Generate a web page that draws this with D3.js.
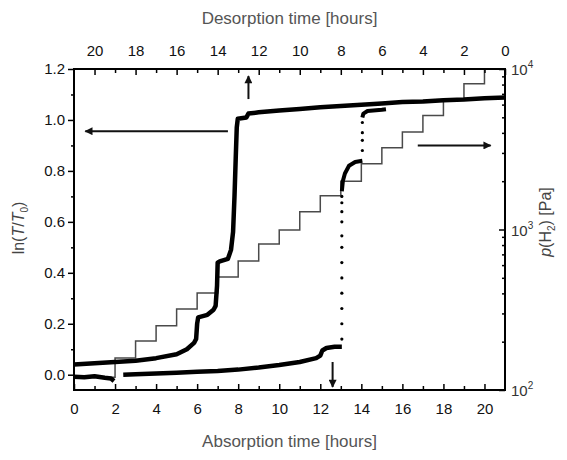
<!DOCTYPE html>
<html>
<head>
<meta charset="utf-8">
<script src="https://cdn.jsdelivr.net/npm/d3@7"></script>
<style>
  body { margin: 0; background: #fff; }
  svg { display: block; font-family: "Liberation Sans", Arial, sans-serif; }
</style>
</head>
<body>
<div id="chart"></div>
<script>
const WIDTH = 567;
const HEIGHT = 460;

// pressure steps: start time (h) and p(H2) in Pa
const stepTimes = [0, 2, 3, 4, 5, 6, 7, 8, 9, 10, 11, 12, 13, 14, 15, 16, 17, 18, 19, 20, 21];
const stepPressure = [120, 158, 202, 251, 320, 402, 506, 637, 813, 994, 1290, 1620, 2000, 2570, 3230, 4050, 5130, 6460, 8100, 10000, 10000];

// absorption curve ln(T/T0)
const absTime = [0, 1, 2, 3, 4, 5, 5.5, 5.85, 5.95, 6.0, 6.05, 6.5, 6.8, 6.9, 6.97, 7.0, 7.1, 7.5, 7.65, 7.75, 7.82, 7.88, 7.93, 7.98, 8.4, 8.5, 9, 10, 11, 12, 13, 14, 15, 16, 17, 18, 19, 20, 21];
const absLnT = [0.04, 0.045, 0.05, 0.055, 0.065, 0.08, 0.1, 0.125, 0.14, 0.2, 0.225, 0.235, 0.255, 0.27, 0.35, 0.44, 0.445, 0.455, 0.49, 0.56, 0.7, 0.85, 0.97, 1.005, 1.01, 1.025, 1.03, 1.037, 1.043, 1.05, 1.055, 1.06, 1.065, 1.07, 1.072, 1.077, 1.08, 1.085, 1.088];

// desorption curve, plotted on the absorption axis
const desTimeA = [0, 0.5, 1, 1.5, 1.8, 1.95];
const desLnTA = [-0.008, -0.01, -0.006, -0.012, -0.015, -0.025];
const desTimeB = [2.4, 3, 4, 5, 6, 7, 8, 9, 10, 11, 11.8, 12.0, 12.1, 12.3, 12.7, 13.05];
const desLnTB = [0.0, 0.002, 0.005, 0.008, 0.012, 0.015, 0.02, 0.028, 0.038, 0.05, 0.065, 0.075, 0.095, 0.105, 0.11, 0.11];
const jump1Time = 13.05;
const jump1LnT = [0.14, 0.2, 0.26, 0.32, 0.38, 0.44, 0.5, 0.545, 0.6, 0.64, 0.675, 0.7];
const desTimeC = [13.05, 13.1, 13.2, 13.4, 13.7, 14.05];
const desLnTC = [0.72, 0.76, 0.79, 0.82, 0.835, 0.84];
const jump2Time = 14.05;
const jump2LnT = [0.88, 0.92, 0.95, 0.99];
const desTimeD = [14.05, 14.1, 14.3, 15, 15.2];
const desLnTD = [1.01, 1.025, 1.035, 1.04, 1.042];

// ticks
const bottomTicks = [0, 2, 4, 6, 8, 10, 12, 14, 16, 18, 20];
const topTicks = [20, 18, 16, 14, 12, 10, 8, 6, 4, 2, 0];
const leftTicks = [0.0, 0.2, 0.4, 0.6, 0.8, 1.0, 1.2];
const rightTicks = [100, 1000, 10000];

// arrows [t0, v0, t1, v1] (tail -> head)
const arrows = [
    [7.5, 0.956, 0.55, 0.956],
    [16.75, 0.90, 20.3, 0.90],
    [8.5, 1.082, 8.5, 1.172],
    [12.6, 0.05, 12.6, -0.048]
];

const margin = { left: 74, top: 69, right: 62, bottom: 70 };

const svg = d3.select("#chart")
    .append("svg")
    .attr("width", WIDTH)
    .attr("height", HEIGHT);

const x = d3.scaleLinear().domain([0, 21]).range([margin.left, WIDTH - margin.right]);
const xTop = d3.scaleLinear().domain([21, 0]).range([margin.left, WIDTH - margin.right]);
const y = d3.scaleLinear().domain([-0.06, 1.2]).range([HEIGHT - margin.bottom, margin.top]);
const yP = d3.scaleLog().domain([100, 10000]).range([HEIGHT - margin.bottom, margin.top]);

const plotBottom = HEIGHT - margin.bottom;
const plotRight = WIDTH - margin.right;

// pressure step line
const stepData = stepTimes.map((t, i) => [t, stepPressure[i]]);
svg.append("path")
    .datum(stepData)
    .attr("fill", "none")
    .attr("stroke", "#4a4a4a")
    .attr("stroke-width", 1.5)
    .attr("d", d3.line().curve(d3.curveStepAfter).x(d => x(d[0])).y(d => yP(d[1])));

// thick data bands
const band = d3.line().x(d => x(d[0])).y(d => y(d[1]));
function drawBand(times, vals, w) {
    svg.append("path")
        .datum(times.map((t, i) => [t, vals[i]]))
        .attr("fill", "none")
        .attr("stroke", "#000")
        .attr("stroke-width", w)
        .attr("stroke-linejoin", "round")
        .attr("d", band);
}
drawBand(absTime, absLnT, 4.5);
drawBand(desTimeA, desLnTA, 4.5);
drawBand(desTimeB, desLnTB, 4.5);
drawBand(desTimeC, desLnTC, 4);
drawBand(desTimeD, desLnTD, 4);

function drawDots(t, vals) {
    svg.append("g").selectAll("circle")
        .data(vals)
        .enter().append("circle")
        .attr("cx", x(t))
        .attr("cy", d => y(d))
        .attr("r", 1.6)
        .attr("fill", "#000");
}
drawDots(jump1Time, jump1LnT);
drawDots(jump2Time, jump2LnT);

// axes
function styleAxis(g) {
    g.select(".domain").remove();
    g.selectAll("line").attr("stroke", "#000").attr("stroke-width", 1.5);
    g.selectAll("text").attr("font-size", 15).attr("fill", "#111");
}

svg.append("g")
    .attr("transform", `translate(0,${plotBottom})`)
    .call(d3.axisBottom(x).tickValues(bottomTicks).tickSize(-6).tickPadding(13))
    .call(styleAxis);
svg.append("g")
    .attr("transform", `translate(0,${plotBottom})`)
    .call(d3.axisBottom(x).tickValues(d3.range(1, 21, 2)).tickSize(-4).tickFormat(""))
    .call(styleAxis);

svg.append("g")
    .attr("transform", `translate(0,${margin.top})`)
    .call(d3.axisTop(xTop).tickValues(topTicks).tickSize(-6).tickPadding(13))
    .call(styleAxis);
svg.append("g")
    .attr("transform", `translate(0,${margin.top})`)
    .call(d3.axisTop(xTop).tickValues(d3.range(1, 21, 2)).tickSize(-4).tickFormat(""))
    .call(styleAxis);

svg.append("g")
    .attr("transform", `translate(${margin.left},0)`)
    .call(d3.axisLeft(y).tickValues(leftTicks).tickSize(6).tickPadding(3).tickFormat(d3.format(".1f")))
    .call(styleAxis);
svg.append("g")
    .attr("transform", `translate(${margin.left},0)`)
    .call(d3.axisLeft(y).tickValues([0.1, 0.3, 0.5, 0.7, 0.9, 1.1]).tickSize(3).tickFormat(""))
    .call(styleAxis);

const minorP = [];
[100, 1000].forEach(b => { for (let k = 2; k <= 9; k++) minorP.push(b * k); });
svg.append("g")
    .attr("transform", `translate(${plotRight},0)`)
    .call(d3.axisRight(yP).tickValues(rightTicks).tickSize(-6).tickFormat(""))
    .call(styleAxis);
svg.append("g")
    .attr("transform", `translate(${plotRight},0)`)
    .call(d3.axisRight(yP).tickValues(minorP).tickSize(-3).tickFormat(""))
    .call(styleAxis);

// right labels 10^n
rightTicks.forEach(function(p) {
    const t = svg.append("text")
        .attr("x", plotRight + 6)
        .attr("y", yP(p) + 6)
        .attr("font-size", 15)
        .attr("fill", "#333");
    t.append("tspan").text("10");
    t.append("tspan").attr("dy", -7).attr("font-size", 10).text(Math.round(Math.log10(p)));
});

// frame
svg.append("rect")
    .attr("x", margin.left)
    .attr("y", margin.top)
    .attr("width", plotRight - margin.left)
    .attr("height", plotBottom - margin.top)
    .attr("fill", "none")
    .attr("stroke", "#000")
    .attr("stroke-width", 2);

// arrows
svg.append("defs").append("marker")
    .attr("id", "head")
    .attr("viewBox", "0 0 10 10")
    .attr("refX", 9)
    .attr("refY", 5)
    .attr("markerWidth", 5)
    .attr("markerHeight", 4)
    .attr("markerUnits", "strokeWidth")
    .attr("orient", "auto")
    .append("path")
    .attr("d", "M0,0 L10,5 L0,10 Z")
    .attr("fill", "#111");

arrows.forEach(function(a) {
    svg.append("line")
        .attr("x1", x(a[0])).attr("y1", y(a[1]))
        .attr("x2", x(a[2])).attr("y2", y(a[3]))
        .attr("stroke", "#111")
        .attr("stroke-width", 2)
        .attr("marker-end", "url(#head)");
});

// titles
svg.append("text")
    .attr("x", (margin.left + plotRight) / 2)
    .attr("y", 24)
    .attr("text-anchor", "middle")
    .attr("font-size", 17)
    .attr("fill", "#555")
    .text("Desorption time [hours]");

svg.append("text")
    .attr("x", (margin.left + plotRight) / 2)
    .attr("y", 447)
    .attr("text-anchor", "middle")
    .attr("font-size", 17)
    .attr("fill", "#555")
    .text("Absorption time [hours]");

const lt = svg.append("text")
    .attr("transform", "translate(24,228) rotate(-90)")
    .attr("text-anchor", "middle")
    .attr("font-size", 16)
    .attr("fill", "#444");
lt.append("tspan").text("ln(");
lt.append("tspan").attr("font-style", "italic").text("T");
lt.append("tspan").text("/");
lt.append("tspan").attr("font-style", "italic").text("T");
lt.append("tspan").attr("font-size", 10).attr("dy", 4).text("0");
lt.append("tspan").attr("dy", -4).text(")");

const rt = svg.append("text")
    .attr("transform", "translate(551,222) rotate(-90)")
    .attr("text-anchor", "middle")
    .attr("font-size", 16)
    .attr("fill", "#444");
rt.append("tspan").attr("font-style", "italic").text("p");
rt.append("tspan").text("(H");
rt.append("tspan").attr("font-size", 10).attr("dy", 4).text("2");
rt.append("tspan").attr("dy", -4).text(") [Pa]");
</script>
</body>
</html>
